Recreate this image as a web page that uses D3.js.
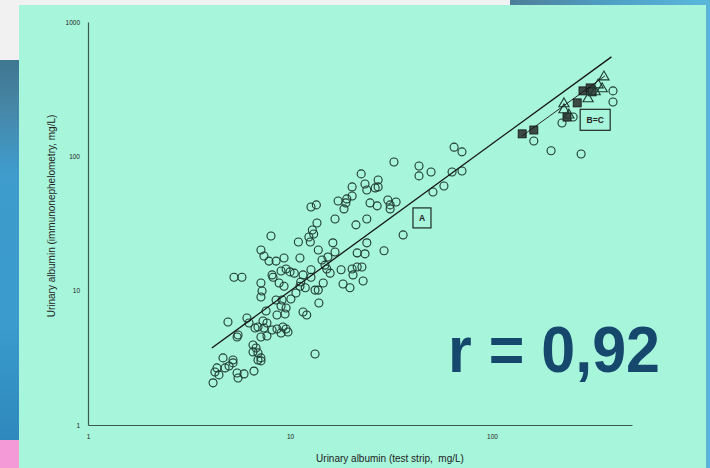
<!DOCTYPE html>
<html><head><meta charset="utf-8">
<script src="https://cdn.jsdelivr.net/npm/d3@7"></script>
<style>body{margin:0;background:#f1f1f1;overflow:hidden}svg{display:block}</style>
</head><body><svg id="c" width="710" height="468"></svg>
<script>
// ---- data (test strip mg/L, immunonephelometry mg/L) ----
const circlesA = [
[64.9,117],[71.0,108],[32.7,90.8],[43.5,84.8],[43.5,71.5],[49.9,76.5],[63.4,76.5],[71.0,77.8],[51.0,54.3],[57.8,60.2],
[22.5,74.0],[20.3,59.2],[23.5,62.3],[24.0,56.2],[27.3,66.7],[27.3,59.2],[26.4,58.2],[20.3,50.7],[19.1,48.2],[17.3,46.5],
[18.9,45.0],[18.5,40.6],[12.7,42.0],[13.5,43.5],[24.9,45.0],[27.0,42.8],[30.5,47.3],[33.5,45.7],[31.3,43.5],[31.3,40.6],
[16.7,34.2],[24.0,34.2],[13.6,31.9],[21.2,30.9],[36.3,26.0],[8.05,25.5],[12.9,28.3],[13.1,26.4],[12.4,25.1],[12.6,23.0],
[11.0,23.0],[16.3,22.7],[24.0,22.7],[7.18,20.1],[7.43,18.1],[7.87,16.6],[8.53,16.6],[9.34,17.5],[11.2,17.5],[13.8,20.1],
[16.7,19.4],[21.5,19.1],[23.5,18.8],[29.2,19.8],[15.4,17.8],[14.4,16.9],[14.9,15.5],[15.2,14.5],[15.8,13.5],[5.28,12.6],
[5.78,12.6],[8.15,13.1],[8.24,12.6],[9.03,14.0],[9.56,14.5],[10.0,13.8],[10.5,13.5],[8.83,11.4],[9.34,10.8],[7.18,11.4],
[7.27,9.95],[7.18,8.98],[11.6,13.1],[12.7,14.3],[12.7,12.6],[11.3,11.6],[11.9,10.5],[11.2,10.8],[13.3,10.1],[13.8,10.1],
[14.6,11.4],[17.9,14.3],[20.3,14.5],[21.5,15.0],[22.7,15.0],[20.5,13.1],[23.0,11.8],[18.3,11.2],[19.8,10.5],[13.9,8.09],
[8.53,8.53],[9.13,8.53],[10.1,8.67],[10.7,9.61],[9.03,7.69],[9.56,7.43],[9.45,6.71],[8.62,6.59],[11.6,6.94],[12.1,6.59],
[7.61,7.06],[6.12,6.26],[6.27,5.75],[4.93,5.85],[6.71,5.28],[6.94,5.37],[7.35,5.95],[7.69,5.75],[7.43,5.28],[7.69,4.60],
[7.18,4.52],[8.15,5.10],[8.62,5.19],[9.03,4.84],[9.56,5.19],[9.77,4.92],[9.23,5.37],[5.47,4.52],[5.53,4.68],[6.56,3.94],
[6.79,3.74],[6.56,3.50],[6.94,3.44],[7.18,3.16],[6.94,3.05],[7.18,3.00],[13.3,3.38],[4.66,3.16],[5.22,3.05],[5.22,2.90],
[4.99,2.75],[4.77,2.66],[4.35,2.66],[4.25,2.48],[4.45,2.36],[4.16,2.06],[5.47,2.44],[5.53,2.24],[5.92,2.40],[6.63,2.52],
[161,130],[196,110],[276,104],[222,177],[252,196],[397,307],[397,254]
];
const squaresB = [[141,147],[161,157],[235,196],[264,250],[282,307],[306,323],[313,302]];
const trianglesC = [[358,390],[335,340],[351,318],[299,268],[324,302],[227,246],[227,222],[240,203]];
const lineA = [[4.1,3.74],[390,550]];
const lineBC = [[141,142],[362,397]];
const xTicks = [1,10,100];
const yTicks = [1,10,100,1000];
const boxLabels = [{t:"A",x:45.0,y:34.8,w:18,h:20},{t:"B=C",x:324,y:187,w:30,h:21}];
const xTitle = "Urinary albumin (test strip,  mg/L)";
const yTitle = "Urinary albumin (immunonephelometry, mg/L)";
const rText = "r = 0,92";

const svg = d3.select("#c");
const defs = svg.append("defs");
const g1 = defs.append("linearGradient").attr("id","lb").attr("x1",0).attr("y1",0).attr("x2",0).attr("y2",1);
[[0,"#3f7690"],[0.12,"#4686a6"],[0.3,"#3f9ccd"],[0.7,"#3a9bcc"],[1,"#2f88bd"]].forEach(s=>g1.append("stop").attr("offset",s[0]).attr("stop-color",s[1]));
const g2 = defs.append("linearGradient").attr("id","tb").attr("x1",0).attr("y1",0).attr("x2",1).attr("y2",0);
[[0,"#4d7e98"],[0.5,"#4f9fc4"],[1,"#5ab8dc"]].forEach(s=>g2.append("stop").attr("offset",s[0]).attr("stop-color",s[1]));

// background
svg.append("rect").attr("x",0).attr("y",0).attr("width",710).attr("height",468).attr("fill","#f1f1f1");
svg.append("rect").attr("x",0).attr("y",60).attr("width",20).attr("height",380).attr("fill","url(#lb)");
svg.append("rect").attr("x",0).attr("y",440).attr("width",20).attr("height",28).attr("fill","#f39ad7");
svg.append("rect").attr("x",510).attr("y",0).attr("width",200).attr("height",6).attr("fill","url(#tb)");
svg.append("rect").attr("x",700).attr("y",0).attr("width",10).attr("height",468).attr("fill","#5ab5d8");
svg.append("rect").attr("x",19).attr("y",5).attr("width",687).attr("height",463).attr("fill","#a7f5db");

const x = d3.scaleLog().domain([1,493]).range([88,632]);
const y = d3.scaleLog().domain([1,1000]).range([425,22]);
const ink = "#1e3a30";

const xa = svg.append("g").attr("transform","translate(0,425)")
  .call(d3.axisBottom(x).tickValues(xTicks).tickSize(0).tickPadding(9).tickFormat(d3.format("d")));
const ya = svg.append("g").attr("transform","translate(88,0)")
  .call(d3.axisLeft(y).tickValues(yTicks).tickSize(0).tickPadding(8).tickFormat(d3.format("d")));
[xa,ya].forEach(a=>{
  a.select(".domain").attr("stroke","#3b5a4f").attr("stroke-width",1.2);
  a.selectAll("text").attr("font-family","Liberation Sans, Arial, sans-serif").attr("font-size",6.5).attr("fill","#222");
});

svg.append("text").attr("x",390).attr("y",462).attr("text-anchor","middle").style("white-space","pre")
  .attr("font-family","Liberation Sans, Arial, sans-serif").attr("font-size",10).attr("fill","#222").text(xTitle);
svg.append("text").attr("transform","translate(55,216) rotate(-90)").attr("text-anchor","middle")
  .attr("font-family","Liberation Sans, Arial, sans-serif").attr("font-size",10).attr("fill","#222").text(yTitle);

// points
svg.append("g").selectAll("circle").data(circlesA).join("circle")
  .attr("cx",d=>x(d[0])).attr("cy",d=>y(d[1])).attr("r",4)
  .attr("fill","none").attr("stroke",ink).attr("stroke-width",1.1);
svg.append("g").selectAll("rect").data(squaresB).join("rect")
  .attr("x",d=>x(d[0])-4).attr("y",d=>y(d[1])-4).attr("width",8).attr("height",8)
  .attr("fill","#3b4a45").attr("stroke","#111").attr("stroke-width",0.8);
const tri = d3.symbol().type(d3.symbolTriangle).size(45);
svg.append("g").selectAll("path").data(trianglesC).join("path")
  .attr("d",tri).attr("transform",d=>`translate(${x(d[0])},${y(d[1])})`)
  .attr("fill","none").attr("stroke",ink).attr("stroke-width",1.1);

// regression lines
const ln = d3.line().x(d=>x(d[0])).y(d=>y(d[1]));
svg.append("path").attr("d",ln(lineA)).attr("stroke","#151515").attr("stroke-width",1.3).attr("fill","none");
svg.append("path").attr("d",ln(lineBC)).attr("stroke","#151515").attr("stroke-width",0.9).attr("fill","none");

// boxed labels
const bl = svg.append("g").selectAll("g").data(boxLabels).join("g")
  .attr("transform",d=>`translate(${x(d.x)},${y(d.y)})`);
bl.append("rect").attr("x",d=>-d.w/2).attr("y",d=>-d.h/2).attr("width",d=>d.w).attr("height",d=>d.h)
  .attr("fill","none").attr("stroke","#1e2a26").attr("stroke-width",1.2);
bl.append("text").attr("text-anchor","middle").attr("dy","0.35em")
  .attr("font-family","Liberation Sans, Arial, sans-serif").attr("font-weight","bold").attr("font-size",8.5).attr("fill","#222")
  .text(d=>d.t);

// r annotation
svg.append("text").attr("x",448).attr("y",372).attr("textLength",212).attr("lengthAdjust","spacingAndGlyphs")
  .attr("font-family","Liberation Sans, Arial, sans-serif").attr("font-weight","bold").attr("font-size",64)
  .attr("fill","#15486c").text(rText);
</script></body></html>
